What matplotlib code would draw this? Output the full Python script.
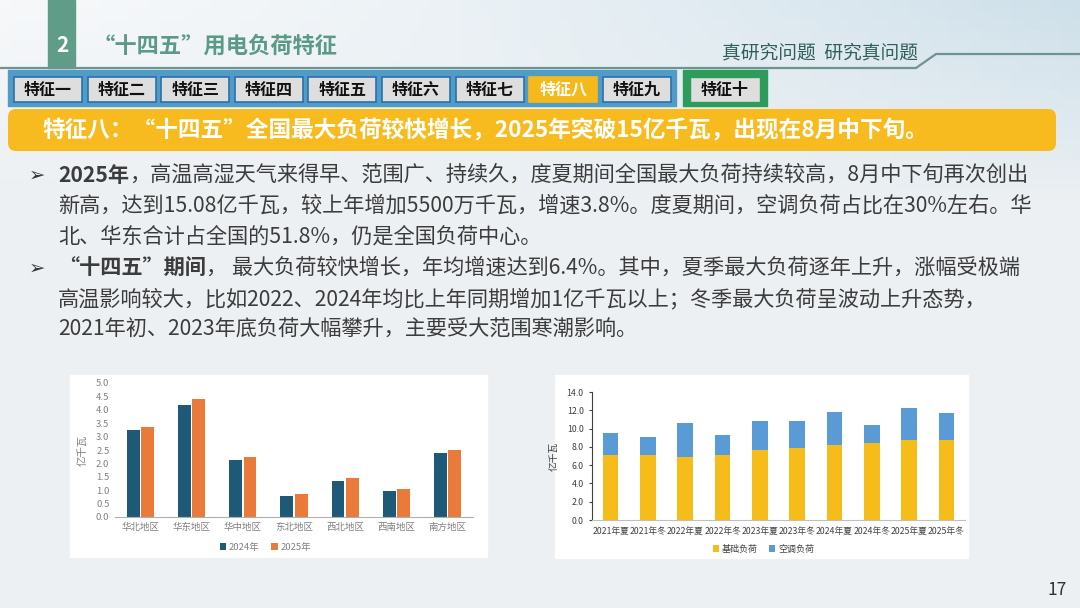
import numpy as np
import matplotlib
matplotlib.use('Agg')
import matplotlib.pyplot as plt
from matplotlib.patches import Rectangle, FancyBboxPatch

plt.rcParams['font.family'] = ['Noto Sans CJK SC', 'DejaVu Sans']

# left chart: max load by region
regions = ['华北地区', '华东地区', '华中地区', '东北地区', '西北地区', '西南地区', '南方地区']
load2024 = [3.23, 4.19, 2.11, 0.79, 1.36, 0.96, 2.38]
load2025 = [3.36, 4.40, 2.25, 0.84, 1.44, 1.05, 2.50]

# right chart: base load + air-conditioning load
seasons = ['2021年夏', '2021年冬', '2022年夏', '2022年冬', '2023年夏',
           '2023年冬', '2024年夏', '2024年冬', '2025年夏', '2025年冬']
baseLoad = [7.15, 7.15, 6.85, 7.10, 7.70, 7.90, 8.25, 8.45, 8.75, 8.80]
acLoad = [2.40, 1.95, 3.80, 2.15, 3.15, 2.95, 3.55, 1.90, 3.55, 2.85]

tabs = ['特征一', '特征二', '特征三', '特征四', '特征五', '特征六', '特征七', '特征八', '特征九']

W, H = 1080, 608
fig = plt.figure(figsize=(W / 100, H / 100), dpi=100)
bg = fig.add_axes([0, 0, 1, 1])
bg.set_xlim(0, W)
bg.set_ylim(H, 0)
bg.axis('off')

# background with a pale blue wash at the top right
yy, xx = np.mgrid[0:61, 0:108]
fx = xx / 107.0
fy = np.clip(1 - yy / 20.0, 0, 1)
base = np.array([236, 240, 243]) / 255.0
top = np.array([246, 248, 250]) / 255.0
blue = np.array([206, 224, 234]) / 255.0
img = base[None, None, :] + (top - base)[None, None, :] * fy[..., None]
img = img + (blue - top)[None, None, :] * (fy * fx ** 1.5)[..., None]
bg.imshow(np.clip(img, 0, 1), extent=(0, W, H, 0), aspect='auto', zorder=0)

# header
bg.add_patch(Rectangle((48, 0), 27, 68, color='#5f9d88', zorder=2))
bg.text(62, 46, '2', color='white', fontsize=15, fontweight='bold', ha='center', va='center', zorder=3)
bg.text(93, 46, '“十四五”用电负荷特征', color='#5a9a86', fontsize=16, fontweight='bold', va='center', zorder=3)
bg.plot([0, 916, 936, W], [68, 68, 54, 54], color='#6f9490', lw=1.6, zorder=2)
bg.text(722, 53, '真研究问题  研究真问题', color='#2f5f58', fontsize=13.5, va='center', zorder=3)

# tab bar
bg.add_patch(Rectangle((8, 70), 668, 36, color='#4f9dc6', zorder=2))
for i, name in enumerate(tabs):
    cx = 48 + 73.6 * i
    active = (i == 7)
    face = '#f5b91c' if active else '#dedede'
    edge = '#f5b91c' if active else '#2e6fa8'
    bg.add_patch(Rectangle((cx - 34, 77), 68, 25, facecolor=face, edgecolor=edge, lw=1.2, zorder=3))
    bg.text(cx, 89.5, name, color='white' if active else '#111111', fontsize=11.5,
            fontweight='bold', ha='center', va='center', zorder=4)
bg.add_patch(Rectangle((683, 70), 84, 36, color='#2d9c5b', zorder=2))
bg.add_patch(Rectangle((690, 77), 70, 25, facecolor='#dedede', edgecolor='#2d9c5b', zorder=3))
bg.text(725, 89.5, '特征十', color='#111111', fontsize=11.5, fontweight='bold', ha='center', va='center', zorder=4)

# yellow banner
bg.add_patch(FancyBboxPatch((8, 109), 1048, 42, boxstyle='round,pad=0,rounding_size=8',
                            facecolor='#f7bb1f', edgecolor='none', zorder=2))
bg.text(42, 131, '特征八：“十四五”全国最大负荷较快增长，2025年突破15亿千瓦，出现在8月中下旬。',
        color='white', fontsize=16.3, fontweight='bold', va='center', zorder=3)

# body text
r = fig.canvas.get_renderer()


def line(x, y, parts):
    for txt, wt in parts:
        t = bg.text(x, y, txt, color='#3c3c3c', fontsize=15.25, fontweight=wt, va='center', zorder=3)
        bb = t.get_window_extent(renderer=r)
        x = bg.transData.inverted().transform((bb.x1, 0))[0]


for yb in [175, 268]:
    bg.text(37, yb, '➢', color='#333333', fontsize=14, va='center', ha='center', zorder=3)
line(58, 175, [('2025年', 'bold'), ('，高温高湿天气来得早、范围广、持续久，度夏期间全国最大负荷持续较高，8月中下旬再次创出', 'normal')])
line(58, 206, [('新高，达到15.08亿千瓦，较上年增加5500万千瓦，增速3.8%。度夏期间，空调负荷占比在30%左右。华', 'normal')])
line(58, 237, [('北、华东合计占全国的51.8%，仍是全国负荷中心。', 'normal')])
line(58, 268, [('“十四五”期间', 'bold'), ('， 最大负荷较快增长，年均增速达到6.4%。其中，夏季最大负荷逐年上升，涨幅受极端', 'normal')])
line(58, 299, [('高温影响较大，比如2022、2024年均比上年同期增加1亿千瓦以上；冬季最大负荷呈波动上升态势，', 'normal')])
line(58, 330, [('2021年初、2023年底负荷大幅攀升，主要受大范围寒潮影响。', 'normal')])

bg.text(1057, 590, '17', color='#333333', fontsize=12.5, ha='center', va='center', zorder=3)

# chart panels
bg.add_patch(Rectangle((70, 375), 417, 182, color='white', zorder=1))
bg.add_patch(Rectangle((555, 375), 413, 183, color='white', zorder=1))


def axrect(x0, y0, x1, y1):
    return [x0 / W, 1 - y1 / H, (x1 - x0) / W, (y1 - y0) / H]


# left chart
ax1 = fig.add_axes(axrect(115, 383, 473, 517))
x = np.arange(len(regions))
ax1.bar(x - 0.14, load2024, width=0.25, color='#1e5a78', label='2024年')
ax1.bar(x + 0.14, load2025, width=0.25, color='#e97a3a', label='2025年')
ax1.set_xlim(-0.5, len(regions) - 0.5)
ax1.set_ylim(0, 5)
ax1.set_yticks(np.arange(0, 5.01, 0.5))
ax1.set_yticklabels(['%.1f' % v for v in np.arange(0, 5.01, 0.5)])
ax1.set_xticks(x)
ax1.set_xticklabels(regions)
ax1.tick_params(length=0, labelsize=6.8, labelcolor='#808080', pad=4)
for s in ['top', 'right', 'left']:
    ax1.spines[s].set_visible(False)
ax1.spines['bottom'].set_color('#b0b0b0')
ax1.set_ylabel('亿千瓦', fontsize=7.5, color='#808080', labelpad=6)
ax1.legend(loc='upper center', bbox_to_anchor=(0.42, -0.13), ncol=2, frameon=False,
           fontsize=6.8, labelcolor='#808080', handlelength=0.7, handleheight=0.7,
           columnspacing=1.2, handletextpad=0.3)
ax1.patch.set_alpha(0)

# right chart
ax2 = fig.add_axes(axrect(592, 392, 965, 520))
x2 = np.arange(len(seasons))
ax2.bar(x2, baseLoad, width=0.42, color='#f6bd1a', label='基础负荷')
ax2.bar(x2, acLoad, width=0.42, bottom=baseLoad, color='#5b9bd5', label='空调负荷')
ax2.set_xlim(-0.5, len(seasons) - 0.5)
ax2.set_ylim(0, 14)
ax2.set_yticks(np.arange(0, 14.01, 2))
ax2.set_yticklabels(['%.1f' % v for v in np.arange(0, 14.01, 2)])
ax2.set_xticks(x2)
ax2.set_xticklabels(seasons)
ax2.tick_params(axis='x', length=0, labelsize=6.3, labelcolor='#404040', pad=5)
ax2.tick_params(axis='y', length=2.5, width=0.8, labelsize=6.3, labelcolor='#404040', color='#404040')
for s in ['top', 'right']:
    ax2.spines[s].set_visible(False)
ax2.spines['left'].set_color('#404040')
ax2.spines['bottom'].set_color('#bfbfbf')
ax2.set_ylabel('亿千瓦', fontsize=7, color='#404040', labelpad=6)
ax2.legend(loc='upper center', bbox_to_anchor=(0.46, -0.13), ncol=2, frameon=False,
           fontsize=6.5, labelcolor='#404040', handlelength=0.7, handleheight=0.7,
           columnspacing=1.2, handletextpad=0.3)
ax2.patch.set_alpha(0)

fig.savefig('out.png', dpi=100)
